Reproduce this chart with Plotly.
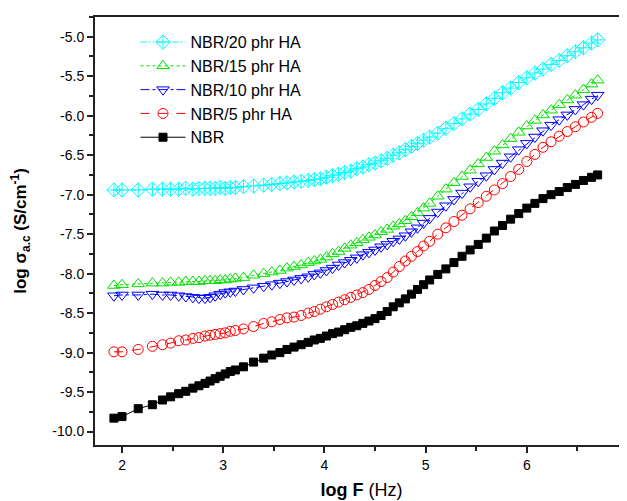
import plotly.graph_objects as go

# log F (Hz) sampling positions
log_f = [1.92, 2.00, 2.16, 2.30, 2.40, 2.48, 2.56, 2.63, 2.70, 2.76, 2.82, 2.87, 2.92, 2.97,
         3.02, 3.07, 3.12, 3.20, 3.30, 3.40, 3.48, 3.56, 3.63, 3.70, 3.77, 3.84, 3.90, 3.96,
         4.02, 4.08, 4.14, 4.20, 4.26, 4.32, 4.38, 4.44, 4.50, 4.56, 4.62, 4.68, 4.74, 4.80,
         4.86, 4.92, 4.98, 5.04, 5.12, 5.20, 5.28, 5.36, 5.44, 5.52, 5.60, 5.68, 5.76, 5.84,
         5.92, 6.00, 6.08, 6.16, 6.24, 6.32, 6.40, 6.48, 6.56, 6.64, 6.70]

nbr20 = [-6.94, -6.94, -6.94, -6.93, -6.93, -6.93, -6.93, -6.92, -6.93, -6.92, -6.92, -6.92, -6.92, -6.91,
         -6.92, -6.91, -6.91, -6.90, -6.89, -6.88, -6.87, -6.86, -6.85, -6.84, -6.83, -6.82, -6.81, -6.80,
         -6.78, -6.76, -6.74, -6.72, -6.70, -6.67, -6.65, -6.62, -6.60, -6.57, -6.54, -6.50, -6.47, -6.43,
         -6.39, -6.35, -6.31, -6.27, -6.22, -6.16, -6.10, -6.04, -5.98, -5.92, -5.85, -5.78, -5.71, -5.65,
         -5.58, -5.52, -5.46, -5.41, -5.35, -5.30, -5.24, -5.19, -5.14, -5.08, -5.04]

nbr15 = [-8.15, -8.14, -8.13, -8.12, -8.12, -8.11, -8.11, -8.10, -8.10, -8.10, -8.09, -8.09, -8.09, -8.08,
         -8.08, -8.07, -8.06, -8.05, -8.02, -8.00, -7.98, -7.96, -7.93, -7.91, -7.89, -7.86, -7.84, -7.82,
         -7.79, -7.75, -7.72, -7.68, -7.64, -7.61, -7.57, -7.54, -7.51, -7.47, -7.44, -7.40, -7.37, -7.33,
         -7.28, -7.23, -7.17, -7.11, -7.02, -6.93, -6.85, -6.77, -6.69, -6.61, -6.53, -6.45, -6.37, -6.29,
         -6.21, -6.13, -6.06, -5.99, -5.93, -5.86, -5.80, -5.74, -5.67, -5.60, -5.55]

nbr10 = [-8.28, -8.27, -8.27, -8.26, -8.27, -8.27, -8.28, -8.29, -8.30, -8.31, -8.31, -8.30, -8.28, -8.26,
         -8.24, -8.23, -8.22, -8.20, -8.18, -8.16, -8.14, -8.12, -8.10, -8.08, -8.06, -8.04, -8.01, -7.99,
         -7.96, -7.93, -7.89, -7.86, -7.83, -7.80, -7.76, -7.73, -7.70, -7.66, -7.63, -7.59, -7.56, -7.52,
         -7.47, -7.42, -7.36, -7.30, -7.22, -7.14, -7.06, -6.98, -6.90, -6.83, -6.76, -6.68, -6.60, -6.52,
         -6.43, -6.35, -6.27, -6.19, -6.12, -6.05, -5.99, -5.92, -5.86, -5.79, -5.74]

nbr5 = [-8.99, -8.99, -8.96, -8.92, -8.90, -8.88, -8.85, -8.84, -8.82, -8.81, -8.79, -8.78, -8.77, -8.76,
        -8.75, -8.73, -8.72, -8.70, -8.67, -8.63, -8.61, -8.58, -8.56, -8.55, -8.53, -8.50, -8.48, -8.45,
        -8.42, -8.39, -8.36, -8.33, -8.30, -8.27, -8.24, -8.20, -8.15, -8.10, -8.05, -7.98, -7.91, -7.84,
        -7.78, -7.72, -7.65, -7.59, -7.50, -7.42, -7.34, -7.26, -7.18, -7.10, -7.02, -6.94, -6.86, -6.77,
        -6.68, -6.58, -6.49, -6.40, -6.33, -6.26, -6.20, -6.14, -6.08, -6.02, -5.97]

nbr0 = [-9.83, -9.81, -9.71, -9.66, -9.60, -9.56, -9.52, -9.49, -9.45, -9.42, -9.39, -9.36, -9.33, -9.30,
        -9.27, -9.24, -9.22, -9.18, -9.12, -9.07, -9.03, -9.00, -8.96, -8.93, -8.90, -8.87, -8.84, -8.82,
        -8.79, -8.76, -8.74, -8.71, -8.68, -8.66, -8.63, -8.60, -8.57, -8.53, -8.48, -8.42, -8.37, -8.32,
        -8.26, -8.20, -8.14, -8.08, -8.01, -7.94, -7.86, -7.78, -7.70, -7.63, -7.55, -7.46, -7.39, -7.31,
        -7.24, -7.17, -7.11, -7.05, -7.00, -6.96, -6.91, -6.87, -6.82, -6.78, -6.75]

series_names = ["NBR/20 phr HA", "NBR/15 phr HA", "NBR/10 phr HA", "NBR/5 phr HA", "NBR"]
series_values = [nbr20, nbr15, nbr10, nbr5, nbr0]

x_tick_vals = [2, 3, 4, 5, 6, 7]
x_tick_text = ["2", "3", "4", "5", "6", "7"]
y_tick_vals = [-10.0, -9.5, -9.0, -8.5, -8.0, -7.5, -7.0, -6.5, -6.0, -5.5, -5.0]
y_tick_text = ["-10.0", "-9.5", "-9.0", "-8.5", "-8.0", "-7.5", "-7.0", "-6.5", "-6.0", "-5.5", "-5.0"]

styles = [
    dict(color="#00FFFF", symbol="diamond-cross-open", dash="6px,2px,2px,2px,2px,2px", size=11),
    dict(color="#00E000", symbol="triangle-up-open", dash="dot", size=11),
    dict(color="#0000FF", symbol="triangle-down-open", dash="dashdot", size=11),
    dict(color="#FF0000", symbol="circle-open", dash="dash", size=10),
    dict(color="#000000", symbol="square", dash="solid", size=8),
]

fig = go.Figure()
for name, vals, st in zip(series_names, series_values, styles):
    fig.add_trace(go.Scatter(
        x=log_f, y=vals, name=name, mode="lines+markers",
        line=dict(color=st["color"], width=1, dash=st["dash"]),
        marker=dict(symbol=st["symbol"], size=st["size"], color=st["color"],
                    line=dict(color=st["color"], width=1)),
    ))

font_family = "Liberation Sans, Arial, sans-serif"
fig.update_layout(
    width=627, height=501,
    margin=dict(l=87, r=7, t=9, b=64, autoexpand=False),
    paper_bgcolor="white", plot_bgcolor="white",
    font=dict(family=font_family, color="black", size=14),
    showlegend=True,
    legend=dict(x=0.076, y=0.981, xanchor="left", yanchor="top",
                bgcolor="rgba(0,0,0,0)", font=dict(size=16, family=font_family),
                tracegroupgap=0, itemwidth=45),
    xaxis=dict(range=[1.733, 7.0], tickvals=x_tick_vals, ticktext=x_tick_text,
               ticks="outside", ticklen=6, tickwidth=1.5, tickcolor="#222",
               minor=dict(ticks="outside", ticklen=4, tickwidth=1.5, tickcolor="#222", dtick=0.5, tick0=0),
               showline=True, linecolor="#222", linewidth=2, mirror=True,
               showgrid=False, zeroline=False,
               tickfont=dict(size=14),
               title=dict(text="<b>log F</b> (Hz)", font=dict(size=18), standoff=12)),
    yaxis=dict(range=[-10.17, -4.75], tickvals=y_tick_vals, ticktext=y_tick_text,
               ticks="outside", ticklen=6, tickwidth=1.5, tickcolor="#222",
               minor=dict(ticks="outside", ticklen=4, tickwidth=1.5, tickcolor="#222", dtick=0.25, tick0=0),
               showline=True, linecolor="#222", linewidth=2, mirror=False,
               showgrid=False, zeroline=False,
               tickfont=dict(size=14),
               title=dict(text="<b>log σ<sub>a.c</sub> (S/cm<sup>-1</sup>)</b>", font=dict(size=17), standoff=24)),
)

fig.write_html("out.html")
